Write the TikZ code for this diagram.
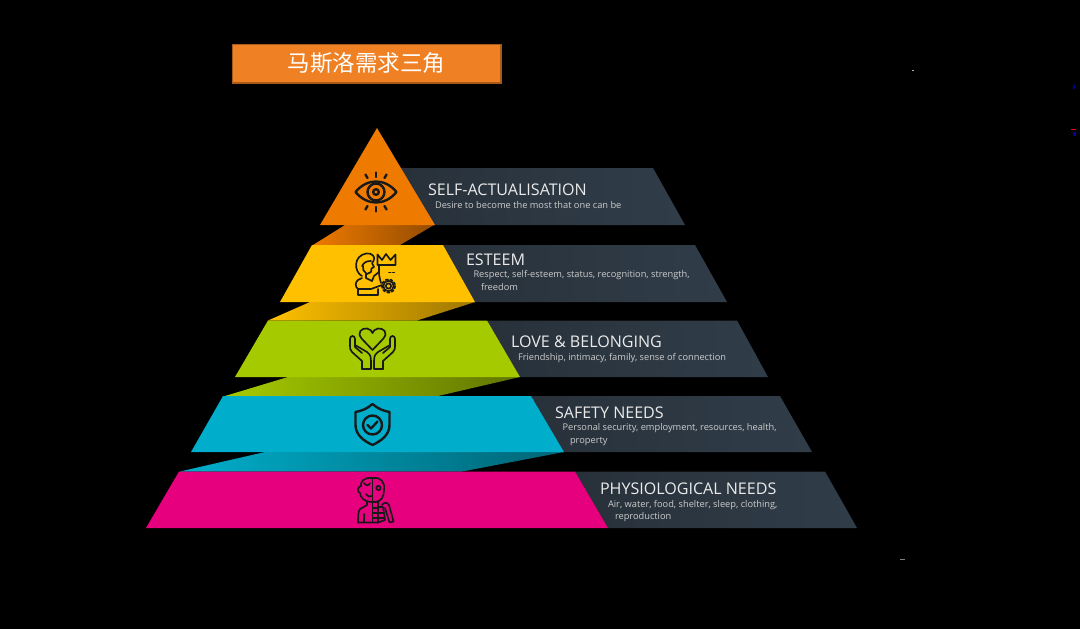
\documentclass[tikz,border=0pt]{standalone}
\usepackage{fontspec}
\setmainfont{Open Sans}
\newfontfamily\cjkfont{Noto Sans CJK SC}
\definecolor{tierorange}{HTML}{EE7A00}
\definecolor{tieryellow}{HTML}{FFC000}
\definecolor{tiergreen}{HTML}{A6CA00}
\definecolor{tiercyan}{HTML}{00AECB}
\definecolor{tierpink}{HTML}{E6007E}
\definecolor{paneldark}{HTML}{28313A}
\definecolor{panellight}{HTML}{303D49}
\definecolor{headbox}{HTML}{F08024}
\definecolor{headline}{HTML}{A85A18}
\tikzset{every picture/.style={line width=0.75pt},
  panelbar/.style={left color=paneldark,right color=panellight},
  tiername/.style={anchor=base west,inner sep=0pt,text=white!92!black,font=\fontsize{12.05}{14}\selectfont},
  tiertext/.style={anchor=base west,inner sep=0pt,text=white!80!black,font=\fontsize{6.95}{9}\selectfont},
  iconline/.style={draw=black!90,line width=1.8pt,line join=round,line cap=round,fill=none},
  iconthin/.style={draw=black!90,line width=1.25pt,line join=round,line cap=round,fill=none}}

\begin{document}
\begin{tikzpicture}[x=0.75pt,y=0.75pt,yscale=-1,xscale=1]
	\useasboundingbox (0,0) rectangle (1080,629);
	\fill [black] (0,0) rectangle (1080,629);

	% Title box
	\node (headtitle) [draw=headline,fill=headbox,line width=1pt,minimum width=201.5pt,minimum height=29pt,inner sep=0pt,text=white,font=\cjkfont\fontsize{16.9}{18}\selectfont] at (366.5,63.5) {马斯洛需求三角};

	% Dark panels
	\shade [panelbar] (400,168) -- (653,168) -- (685,225) -- (434,225) -- cycle ;
	\shade [panelbar] (443,245) -- (695,245) -- (727,302) -- (475,302) -- cycle ;
	\shade [panelbar] (487,320.5) -- (737,320.5) -- (768,377) -- (520,377) -- cycle ;
	\shade [panelbar] (531,396) -- (780,396) -- (812,452) -- (564,452) -- cycle ;
	\shade [panelbar] (575,471.5) -- (825,471.5) -- (857,528) -- (608,528) -- cycle ;

	% Folds between tiers
	\shade [left color=tierorange,middle color=tierorange!92!black,right color=tierorange!62!black] (345,225) -- (434,225) -- (400,245) -- (313,245) -- cycle ;
	\shade [left color=tieryellow,middle color=tieryellow!95!black,right color=tieryellow!62!black] (310,302) -- (475,302) -- (417,320.5) -- (268,320.5) -- cycle ;
	\shade [left color=tiergreen,middle color=tiergreen!92!black,right color=tiergreen!58!black] (288,377) -- (520,377) -- (438,396) -- (225,396) -- cycle ;
	\shade [left color=tiercyan,middle color=tiercyan!95!black,right color=tiercyan!58!black] (265,452) -- (564,452) -- (462,471.5) -- (180,471.5) -- cycle ;

	% Coloured tiers
	\fill [tierorange] (377,128) -- (435,225) -- (320,225) -- cycle ;
	\fill [tieryellow] (312,245) -- (443,245) -- (475,302) -- (280,302) -- cycle ;
	\fill [tiergreen] (268,320.5) -- (487,320.5) -- (520,377) -- (235,377) -- cycle ;
	\fill [tiercyan] (223,396) -- (531,396) -- (564,452) -- (191,452) -- cycle ;
	\fill [tierpink] (179,471.5) -- (575,471.5) -- (608,528) -- (146,528) -- cycle ;

	% Eye
	\draw [iconline] (355.5,192) .. controls (367,178) and (385,178) .. (396.5,192) .. controls (385,206) and (367,206) .. (355.5,192) -- cycle ;
	\draw [iconline] (376,192) circle [radius=8.5] ;
	\draw [iconline] (376,192) circle [radius=2.8] ;
	\draw [iconline] (376,172.5) -- (376,177) ;
	\draw [iconline] (365.5,174.5) -- (367.5,178) ;
	\draw [iconline] (386.5,174.5) -- (384.5,178) ;
	\draw [iconline] (376,207) -- (376,211.5) ;
	\draw [iconline] (367.5,206) -- (365.5,209.5) ;
	\draw [iconline] (384.5,206) -- (386.5,209.5) ;

	% Person with crown and gear
	\draw [iconthin] (377.5,254.5) -- (382,260) -- (386,254) -- (390.5,260) -- (395.5,254.5) -- (395.5,265) -- (377.5,265) -- cycle ;
	\draw [iconthin] (379,265) -- (379,272) .. controls (379,276) and (380,279) .. (381,283) ;
	\draw [iconthin] (362,276) .. controls (354,272) and (353,256) .. (366,253.5) .. controls (372,252.5) and (376,257) .. (373.5,261) -- (372,263) -- (374,267) -- (371.5,268.5) -- (371,272) -- (367,274) ;
	\draw [iconthin] (362,266) .. controls (364,262) and (367,261) .. (371,261) ;
	\draw [iconthin] (363,266) .. controls (362,269) and (364,272) .. (366,273) -- (366,278) ;
	\draw [iconthin] (362,278) -- (358,280) .. controls (355,282) and (355,287) .. (358,289) -- (371,289) -- (382,285) ;
	\draw [iconthin] (366,278) -- (372,281) -- (374,276) -- (379,272) ;
	\draw [iconthin] (358,289) -- (358,295) -- (378,295) -- (378,289) ;
	\draw [iconthin] (388.5,286) circle [radius=2.6] ;
	\draw [iconthin] (388.5,286) circle [radius=5.2] ;
	\draw [iconthin, dash pattern=on 1.8pt off 1.7pt] (388.5,286) circle [radius=6.6] ;
	\draw [iconthin, dash pattern=on 1.2pt off 1.6pt] (389,272.5) -- (395,272.5) ;

	% Hands and heart
	\draw [iconthin] (372.5,350) -- (362,339) .. controls (356,332) and (362,328) .. (367,328.5) .. controls (370,329) and (372,331) .. (372.5,333) .. controls (373,331) and (375,329) .. (378,328.5) .. controls (383,328) and (389,332) .. (383,339) -- cycle ;
	\draw [iconthin] (362,369) -- (362,361) -- (352,352) .. controls (350,350) and (350,348) .. (350,346) -- (350,339) .. controls (350,335) and (355,335) .. (355,339) -- (355,347) -- (362,353) ;
	\draw [iconthin] (355,345) -- (367,352) .. controls (371,355) and (371,358) .. (371,361) -- (371,369) -- (362,369) ;
	\draw [iconthin] (383,369) -- (383,361) -- (393,352) .. controls (395,350) and (395,348) .. (395,346) -- (395,339) .. controls (395,335) and (390,335) .. (390,339) -- (390,347) -- (383,353) ;
	\draw [iconthin] (390,345) -- (378,352) .. controls (374,355) and (374,358) .. (374,361) -- (374,369) -- (383,369) ;

	% Shield
	\draw [iconline] (372.5,404) .. controls (367,409) and (361,411) .. (355.5,412) -- (355.5,425) .. controls (355.5,435) and (364,441) .. (372.5,445) .. controls (381,441) and (389.5,435) .. (389.5,425) -- (389.5,412) .. controls (384,411) and (378,409) .. (372.5,404) -- cycle ;
	\draw [iconline] (372.5,425) circle [radius=9.5] ;
	\draw [iconline] (367.5,425) -- (371,428.5) -- (377.5,421.5) ;

	% Half skeleton
	\draw [iconthin] (372,478) .. controls (364,477) and (360,482) .. (361,486) .. controls (357,487) and (357,492) .. (360,493) .. controls (360,497) and (364,502) .. (372,502) ;
	\draw [iconthin] (373,478) .. controls (381,477) and (385,482) .. (384,490) .. controls (384,497) and (381,501) .. (376,502) -- (373,502) ;
	\draw [iconthin] (372.5,478) -- (372.5,522.5) ;
	\draw [iconthin] (378.5,488) circle [radius=2.2] ;
	\draw [iconthin] (366,494) .. controls (368,497) and (371,497) .. (372,496) ;
	\draw [iconthin] (364,483) .. controls (366,486) and (369,486) .. (370,483) ;
	\draw [iconthin] (367,502) -- (367,505) -- (360,509) .. controls (358,511) and (358,518) .. (358,522.5) -- (378,522.5) ;
	\draw [iconthin] (364,522.5) -- (364,514) ;
	\draw [iconthin] (378,502) -- (378,522.5) ;
	\draw [iconthin] (373,508) -- (378,508) ;
	\draw [iconthin] (373,513) -- (384,513) ;
	\draw [iconthin] (373,518) -- (384,518) ;
	\draw [iconthin] (378,507) -- (383,507) -- (385,520) -- (378,522.5) ;
	\draw [iconthin] (382,505) .. controls (384,502) and (387,502) .. (389,505) -- (393.5,521.5) -- (389.5,522.5) -- (385,508) ;

	% Text Node
	\node (selfname) [tiername] at (427.5,195) {SELF-ACTUALISATION};
	\node (selftext) [tiertext] at (434.5,208) {Desire to become the most that one can be};
	% Text Node
	\node (esteemname) [tiername] at (465.5,265) {ESTEEM};
	\node (esteemtext) [tiertext] at (473,277.5) {Respect, self-esteem, status, recognition, strength,};
	\node (esteemmore) [tiertext] at (480.5,290) {freedom};
	% Text Node
	\node (lovename) [tiername] at (510.5,347.3) {LOVE \& BELONGING};
	\node (lovetext) [tiertext] at (517.5,360) {Friendship, intimacy, family, sense of connection};
	% Text Node
	\node (safetyname) [tiername] at (554.5,418) {SAFETY NEEDS};
	\node (safetytext) [tiertext] at (562,430.5) {Personal security, employment, resources, health,};
	\node (safetymore) [tiertext] at (569.5,443) {property};
	% Text Node
	\node (bodyname) [tiername] at (599.5,494.3) {PHYSIOLOGICAL NEEDS};
	\node (bodytext) [tiertext] at (607.5,507) {Air, water, food, shelter, sleep, clothing,};
	\node (bodymore) [tiertext] at (614.5,519.5) {reproduction};

	% Stray specks
	\fill [white!70!black] (912,69.5) rectangle (914,71) ;
	\fill [blue!60!black] (1072.5,85) rectangle (1074.5,89) ;
	\fill [red] (1071,128.5) rectangle (1076,130) ;
	\fill [blue!60!black] (1073,132) rectangle (1075.5,136) ;
	\fill [white!50!black] (900,559) rectangle (905,560) ;
\end{tikzpicture}
\end{document}
